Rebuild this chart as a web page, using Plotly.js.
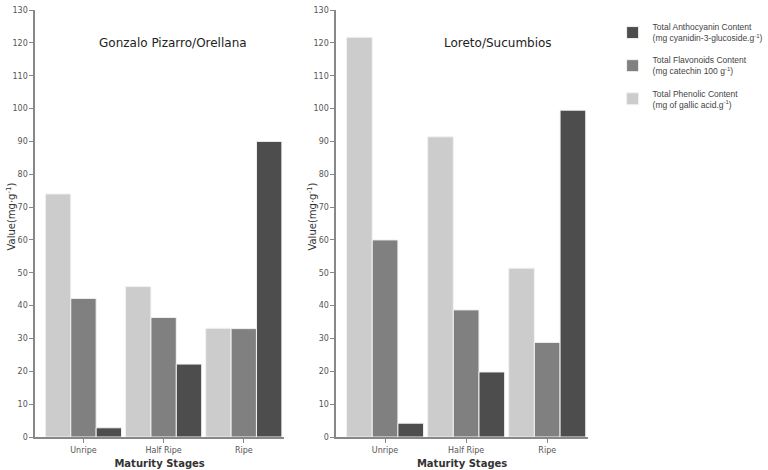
<!DOCTYPE html>
<html><head><meta charset="utf-8">
<script src="https://cdn.plot.ly/plotly-3.0.1.min.js"></script>
<style>body{margin:0;background:#fff}#chart{width:768px;height:470px}</style>
</head><body><div id="chart"></div>
<script>
const stages = ["Unripe", "Half Ripe", "Ripe"];
const seriesNames = [
  "Total Phenolic Content<br>(mg of gallic acid.g<sup>-1</sup>)",
  "Total Flavonoids Content<br>(mg catechin 100 g<sup>-1</sup>)",
  "Total Anthocyanin Content<br>(mg cyanidin-3-glucoside.g<sup>-1</sup>)"
];
const seriesColors = ["#cccccc", "#808080", "#4d4d4d"];
// Gonzalo Pizarro/Orellana
const gpPhenolic = [74.0, 45.8, 33.1];
const gpFlavonoids = [42.2, 36.4, 33.0];
const gpAnthocyanin = [2.8, 22.2, 90.0];
// Loreto/Sucumbios
const lsPhenolic = [121.7, 91.4, 51.4];
const lsFlavonoids = [60.0, 38.7, 28.8];
const lsAnthocyanin = [4.2, 19.8, 99.5];
const panelTitles = ["Gonzalo Pizarro/Orellana", "Loreto/Sucumbios"];
const yTitle = "Value(mg·g<sup>-1</sup>)";
const xTitle = "<b>Maturity Stages</b>";

const panels = [[gpPhenolic, gpFlavonoids, gpAnthocyanin], [lsPhenolic, lsFlavonoids, lsAnthocyanin]];
const traces = [];
panels.forEach((vals, p) => {
  vals.forEach((v, i) => {
    traces.push({
      type: "bar", x: stages, y: v, name: seriesNames[i],
      legendgroup: "g" + i, legendrank: 3 - i, showlegend: p === 0,
      xaxis: p === 0 ? "x" : "x2", yaxis: p === 0 ? "y" : "y2",
      marker: {color: seriesColors[i], line: {color: "#f2f2f2", width: 1}},
      hoverinfo: "skip"
    });
  });
});

const fam = "DejaVu Sans, Verdana, sans-serif";
const font = {family: fam, size: 8, color: "#555"};
function xa(domain, anchor) {
  return {domain: domain, anchor: anchor, range: [-0.6, 2.5], showline: true, linecolor: "#888", linewidth: 2,
    ticks: "outside", ticklen: 4, tickcolor: "#888", tickwidth: 1, tickfont: font, showgrid: false, zeroline: false,
    title: {text: xTitle, font: {family: fam, size: 10, color: "#333"}, standoff: 6}};
}
function ya(anchor) {
  return {anchor: anchor, range: [0, 130], dtick: 10, showline: true, linecolor: "#888", linewidth: 2,
    ticks: "outside", ticklen: 4, tickcolor: "#888", tickwidth: 1, tickfont: font, showgrid: false, zeroline: false};
}
const ytitleFont = {family: fam, size: 10, color: "#333"};
const layout = {
  width: 768, height: 470, paper_bgcolor: "#fff", plot_bgcolor: "#fff",
  margin: {l: 0, r: 0, t: 10, b: 33},
  barmode: "group", bargap: 0.05, bargroupgap: 0,
  xaxis: xa([37/768, 297/768], "y"), yaxis: ya("x"),
  xaxis2: xa([352/768, 615/768], "y2"), yaxis2: ya("x2"),
  showlegend: true,
  legend: {x: 641/768, y: (437-15)/427, xanchor: "left", yanchor: "top", traceorder: "grouped",
    itemwidth: 30, tracegroupgap: 8,
    font: {family: "Liberation Sans, Arial, sans-serif", size: 8.5, color: "#444"}, bgcolor: "rgba(0,0,0,0)"},
  annotations: [
    {text: panelTitles[0], xref: "paper", yref: "paper", x: 181/768, y: (437-43)/427, xanchor: "center", yanchor: "middle",
      showarrow: false, font: {family: fam, size: 12, color: "#222"}},
    {text: panelTitles[1], xref: "paper", yref: "paper", x: 521/768, y: (437-43)/427, xanchor: "center", yanchor: "middle",
      showarrow: false, font: {family: fam, size: 12, color: "#222"}},
    {text: yTitle, xref: "paper", yref: "paper", x: 11/768, y: (437-217)/427, xanchor: "center", yanchor: "middle",
      textangle: -90, showarrow: false, font: ytitleFont},
    {text: yTitle, xref: "paper", yref: "paper", x: 326/768, y: (437-217)/427, xanchor: "center", yanchor: "middle",
      textangle: -90, showarrow: false, font: ytitleFont}
  ]
};
Plotly.newPlot("chart", traces, layout, {displayModeBar: false, staticPlot: true});
</script></body></html>
